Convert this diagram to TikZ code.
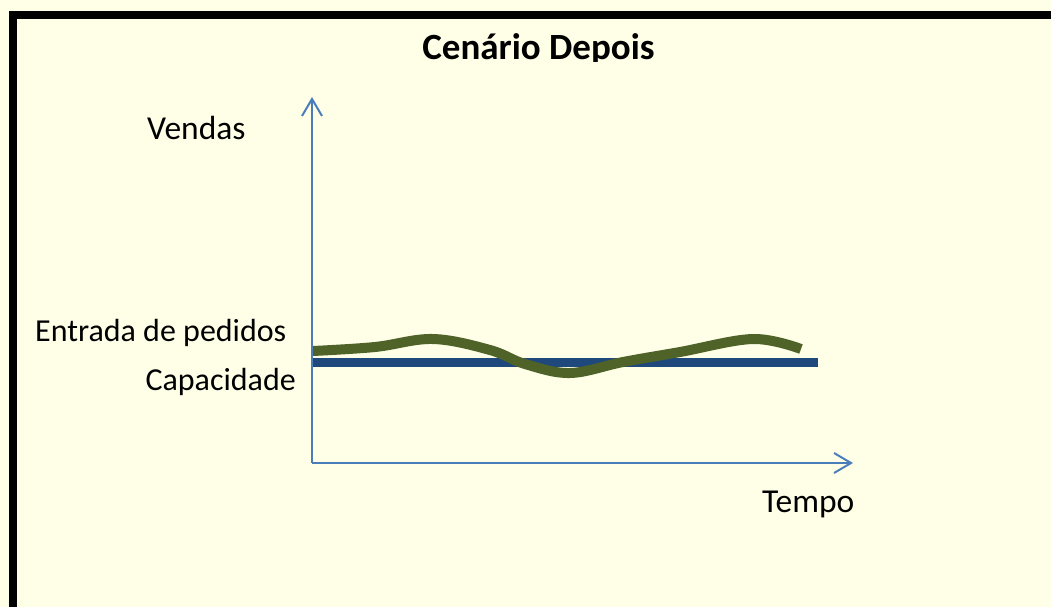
\documentclass[tikz,border=0pt]{standalone}
\usepackage{fontspec}
\setmainfont{Carlito}
\usetikzlibrary{arrows.meta}
\definecolor{bg}{RGB}{255,255,232}
\definecolor{axisblue}{RGB}{74,126,187}
\definecolor{capblue}{RGB}{31,73,125}
\definecolor{ordergreen}{RGB}{79,98,40}
\tikzset{
  axisline/.style={draw=axisblue, line width=2pt, -{Straight Barb[length=17pt,width=20pt,line width=2pt]}},
  lbl/.style={font=\fontsize{32}{38}\selectfont, inner sep=0pt, text=black},
  biglbl/.style={lbl, font=\fontsize{33.5}{40}\selectfont},
  ttl/.style={font=\fontsize{37}{44}\selectfont\bfseries, inner sep=0pt, text=black},
}
\begin{document}
\begin{tikzpicture}[x=1pt,y=-1pt]
\useasboundingbox (0,0) rectangle (1051,607);
\fill[bg] (0,0) rectangle (1051,607);
\draw[line width=8pt, black] (12.5,700) -- (12.5,15.5) -- (1100,15.5);
% title clipped at bottom
\begin{scope}
\clip (300,20) rectangle (800,62);
\node[ttl, anchor=base] (title) at (538.5,60) {Cenário Depois};
\end{scope}
% labels
\node[biglbl, anchor=base west] (vendas) at (147,139.5) {Vendas};
\node[lbl, anchor=base west] (entrada) at (35,341) {Entrada de pedidos};
\node[lbl, anchor=base east] (capac) at (296,390) {Capacidade};
\node[biglbl, anchor=base west] (tempo) at (762,512) {Tempo};
% coordinates
\coordinate (O) at (312,463);
\coordinate (Ytop) at (312,97);
\coordinate (Xend) at (853,463);
\coordinate (C1) at (312,362.5);
\coordinate (C2) at (818,362.5);
% capacity line
\draw[capblue, line width=9pt] (C1) -- (C2);
% order curve
\draw[ordergreen, line width=10pt] plot[smooth, tension=0.6] coordinates
  {(313,351) (375,347) (433,339) (490,350) (525,364) (570,373) (623,362) (680,352) (753,339) (801,349)};
% axes
\draw[axisline] (O) -- (Ytop);
\draw[axisline] (O) -- (Xend);
\end{tikzpicture}
\end{document}
